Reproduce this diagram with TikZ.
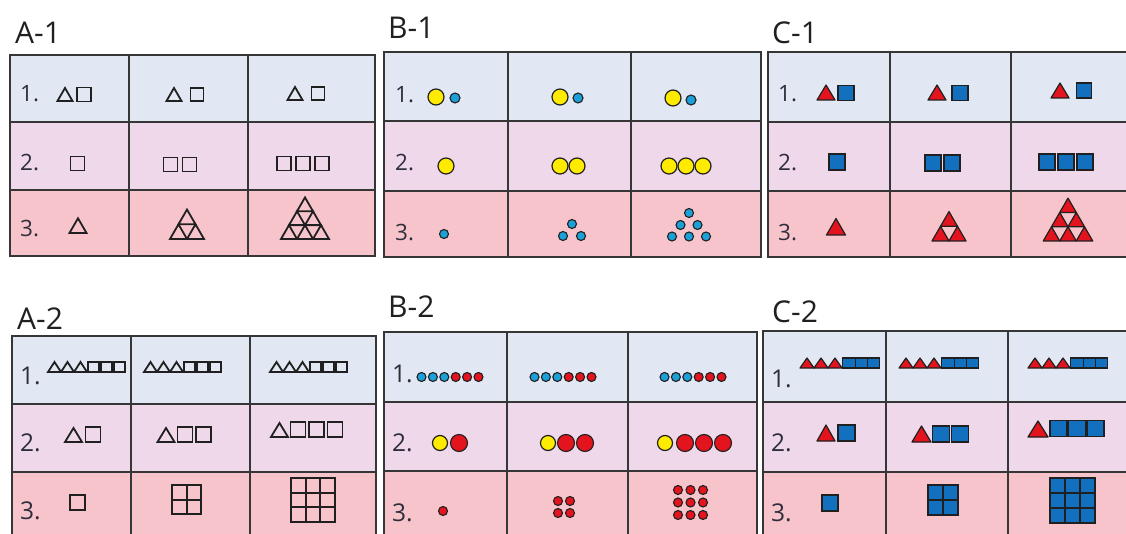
\documentclass[tikz,border=0pt]{standalone}
\usepackage{fontspec}
\setmainfont{Open Sans}
\definecolor{rowA}{HTML}{E1E8F3}
\definecolor{rowB}{HTML}{EED8E9}
\definecolor{rowC}{HTML}{F7C4CB}
\definecolor{gridc}{HTML}{363636}
\definecolor{yel}{HTML}{FFEB00}
\definecolor{cyanb}{HTML}{1CA0D8}
\definecolor{redc}{HTML}{E3141E}
\definecolor{blues}{HTML}{1270BF}
\definecolor{ink}{HTML}{202020}
\definecolor{lbl}{HTML}{2E2E3A}
\tikzset{
  ol/.style={draw=ink, line width=1.8pt},
  olg/.style={draw=ink, line width=2pt},
  rt/.style={fill=redc, draw=ink, line width=1.2pt, line join=round},
  bs/.style={fill=blues, draw=ink, line width=1.2pt},
  yd/.style={fill=yel, draw=ink, line width=1.2pt},
  cd/.style={fill=cyanb, draw=ink, line width=1.1pt},
  rd/.style={fill=redc, draw=ink, line width=1.1pt},
  gridline/.style={draw=gridc, line width=1.9pt},
  ttl/.style={anchor=base west, inner sep=0pt, text=ink, font=\fontsize{30}{36}\selectfont},
  lab/.style={anchor=base west, inner sep=0pt, text=lbl, font=\fontsize{22.5}{27}\selectfont},
  labb/.style={anchor=base west, inner sep=0pt, text=lbl, font=\fontsize{24.5}{29}\selectfont}
}
% style, cx, bottom y, width, height
\newcommand{\Tri}[5]{\draw[#1] ({#2-#4/2},{#3}) -- ({#2+#4/2},{#3}) -- ({#2},{#3-#5}) -- cycle;}
% style, cx, cy, w, h
\newcommand{\Sq}[5]{\draw[#1] ({#2-#4/2},{#3-#5/2}) rectangle ({#2+#4/2},{#3+#5/2});}
% style, cx, cy, radius(pt)
\newcommand{\Dot}[4]{\draw[#1] ({#2},{#3}) circle[radius=#4pt];}
% style, cx, bottom, n, side
\newcommand{\TriGrid}[5]{%
  \pgfmathsetmacro\hh{#5*0.866}%
  \foreach \r in {1,...,#4}{\foreach \k in {1,...,\r}{%
    \Tri{#1}{#2+(\k-(\r+1)/2)*#5}{#3-(#4-\r)*\hh}{#5}{\hh}}}}
% style, x0, y0, n, cell
\newcommand{\SqGrid}[5]{%
  \foreach \i in {1,...,#4}{\foreach \j in {1,...,#4}{%
    \draw[#1] ({#2+(\i-1)*#5},{#3+(\j-1)*#5}) rectangle ++(#5,#5);}}}
% x0,x1,x2,x3,y0,y1,y2,y3
\newcommand{\Tbl}[8]{%
  \fill[rowA] (#1,#5) rectangle (#4,#6);
  \fill[rowB] (#1,#6) rectangle (#4,#7);
  \fill[rowC] (#1,#7) rectangle (#4,#8);
  \draw[gridline] (#1,#5) rectangle (#4,#8);
  \draw[gridline] (#2,#5)--(#2,#8) (#3,#5)--(#3,#8) (#1,#6)--(#4,#6) (#1,#7)--(#4,#7);}
\begin{document}
\begin{tikzpicture}[x=1pt,y=-1pt]
\useasboundingbox (0,0) rectangle (1126,534);
\clip (0,0) rectangle (1126,534);
\fill[white] (0,0) rectangle (1126,534);
% tables
\Tbl{10}{129}{248}{375}{55}{122}{190}{256}
\Tbl{384}{508}{631}{761}{52}{121}{191}{257}
\Tbl{768}{890}{1011}{1134}{52}{122}{191}{257}
\Tbl{12}{131}{250}{376}{336}{404}{472}{542}
\Tbl{384}{507}{628}{757}{332}{402}{471}{542}
\Tbl{763}{886}{1008}{1134}{331}{402}{472}{542}
% titles
\node[ttl] (tA1) at (15,44) {A-1};
\node[ttl] (tB1) at (388,39) {B-1};
\node[ttl] (tC1) at (772,44) {C-1};
\node[ttl] (tA2) at (17,330) {A-2};
\node[ttl] (tB2) at (388,318) {B-2};
\node[ttl] (tC2) at (772,323) {C-2};
% row labels
\node[lab] (a11) at (20,102) {1.};
\node[lab] (a12) at (20,171) {2.};
\node[lab] (a13) at (20,237) {3.};
\node[lab] (b11) at (395,103) {1.};
\node[lab] (b12) at (395,171) {2.};
\node[lab] (b13) at (395,241) {3.};
\node[lab] (c11) at (778,102) {1.};
\node[lab] (c12) at (778,171) {2.};
\node[lab] (c13) at (778,241) {3.};
\node[labb] (a21) at (20,384) {1.};
\node[labb] (a22) at (20,451) {2.};
\node[labb] (a23) at (20,519) {3.};
\node[labb] (b21) at (392,382) {1.};
\node[labb] (b22) at (392,451) {2.};
\node[labb] (b23) at (392,521) {3.};
\node[labb] (c21) at (771,387) {1.};
\node[labb] (c22) at (771,451) {2.};
\node[labb] (c23) at (771,521) {3.};
% ---------- A-1 ----------
\Tri{ol}{65}{101}{15}{13} \Sq{ol}{84}{94.5}{14}{14}
\Tri{ol}{174}{101}{15}{13} \Sq{ol}{197}{94.5}{13}{13}
\Tri{ol}{295}{100}{15}{13} \Sq{ol}{318}{93.5}{13}{13}
\Sq{ol}{77.5}{163.5}{14}{14}
\foreach \x in {170.5,189.5}{\Sq{ol}{\x}{164.5}{14}{14}}
\foreach \x in {284,303,322}{\Sq{ol}{\x}{163.5}{14}{14}}
\TriGrid{ol}{78}{233}{1}{17}
\TriGrid{ol}{187}{239}{2}{17}
\TriGrid{ol}{305}{239}{3}{16}
% ---------- B-1 ----------
\Dot{yd}{436}{97}{8} \Dot{cd}{455}{98}{5}
\Dot{yd}{560}{97}{8} \Dot{cd}{578}{98}{5}
\Dot{yd}{673}{98}{8} \Dot{cd}{691}{100}{5}
\Dot{yd}{446}{166}{8}
\foreach \x in {560,577}{\Dot{yd}{\x}{166}{8}}
\foreach \x in {669,686,703}{\Dot{yd}{\x}{166}{8}}
\Dot{cd}{444}{234}{4.5}
\Dot{cd}{572}{224}{4.5} \Dot{cd}{563}{236}{4.5} \Dot{cd}{581}{236}{4.5}
\Dot{cd}{689}{213}{4.5}
\Dot{cd}{680.5}{225}{4.5} \Dot{cd}{697.5}{225}{4.5}
\Dot{cd}{672}{236.5}{4.5} \Dot{cd}{689}{236.5}{4.5} \Dot{cd}{706}{236.5}{4.5}
% ---------- C-1 ----------
\Tri{rt}{826}{100}{18}{15} \Sq{bs}{846}{93}{16}{15}
\Tri{rt}{937}{100}{18}{15} \Sq{bs}{960}{93}{16}{15}
\Tri{rt}{1060}{98}{18}{15} \Sq{bs}{1084}{90.5}{15}{15}
\Sq{bs}{837}{162}{16}{16}
\foreach \x in {933,952}{\Sq{bs}{\x}{163}{16}{16}}
\foreach \x in {1047,1066,1085}{\Sq{bs}{\x}{162}{16}{16}}
\TriGrid{rt}{836}{235}{1}{19}
\TriGrid{rt}{949}{241}{2}{17}
\TriGrid{rt}{1068}{241}{3}{16.5}
% ---------- A-2 ----------
\foreach \s in {48,144,270}{
  \foreach \d in {6.5,19.5,32.5}{\Tri{ol}{\s+\d}{372}{13}{10}}
  \foreach \d in {45.5,58.5,71.5}{\Sq{ol}{\s+\d}{367}{11.5}{10}}}
\Tri{ol}{73.5}{442}{17}{14} \Sq{ol}{93}{434.5}{15}{15}
\Tri{ol}{166}{442}{17}{14}
\foreach \x in {185,203.5}{\Sq{ol}{\x}{434.5}{15}{15}}
\Tri{ol}{279.5}{437}{17}{14}
\foreach \x in {298,316.5,335}{\Sq{ol}{\x}{429.5}{15}{15}}
\Sq{ol}{77.5}{502.5}{15}{15}
\SqGrid{olg}{172}{485}{2}{14.5}
\SqGrid{olg}{291}{478}{3}{14.7}
% ---------- B-2 ----------
\foreach \s in {421.5,534.5,664.5}{
  \foreach \k in {0,1,2}{\Dot{cd}{\s+\k*11.4}{377}{4.5}}
  \foreach \k in {3,4,5}{\Dot{rd}{\s+\k*11.4}{377}{4.5}}}
\Dot{yd}{440}{443}{7.5} \Dot{rd}{459}{443}{8.5}
\Dot{yd}{548}{443}{7.5}
\foreach \x in {566,585}{\Dot{rd}{\x}{443}{8.5}}
\Dot{yd}{665}{443}{7.5}
\foreach \x in {685,704,723}{\Dot{rd}{\x}{443}{8.5}}
\Dot{rd}{443}{511}{4.5}
\foreach \x in {558,570}{\foreach \y in {501,513}{\Dot{rd}{\x}{\y}{4.5}}}
\foreach \x in {678,690.5,703}{\foreach \y in {490,502.5,515}{\Dot{rd}{\x}{\y}{4.5}}}
% ---------- C-2 ----------
\foreach \s in {800,899,1028}{
  \foreach \d in {7,21,35}{\Tri{rt}{\s+\d}{368}{14}{10}}
  \foreach \d in {49,61.3,73.6}{\Sq{bs}{\s+\d}{363}{12.3}{10}}}
\Tri{rt}{826}{441}{18}{16} \Sq{bs}{846.5}{433}{17}{16}
\Tri{rt}{921.5}{442}{19}{16}
\foreach \x in {941,960}{\Sq{bs}{\x}{434}{17}{16}}
\Tri{rt}{1038}{437}{20}{16}
\foreach \x in {1058.5,1077,1095.5}{\Sq{bs}{\x}{428.5}{17}{16}}
\Sq{bs}{830}{503}{16}{16}
\SqGrid{bs}{928}{485}{2}{15}
\SqGrid{bs}{1050}{478}{3}{15}
\end{tikzpicture}
\end{document}
